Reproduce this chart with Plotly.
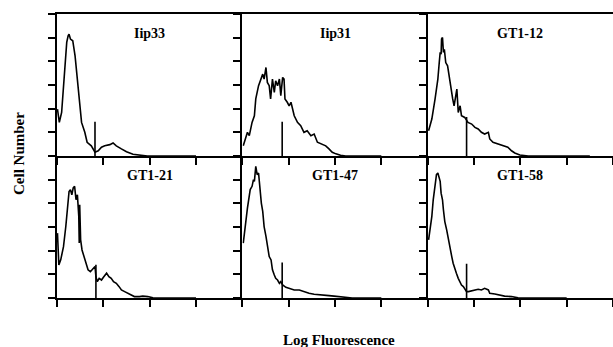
import plotly.graph_objects as go

panel_titles = ["Iip33", "Iip31", "GT1-12", "GT1-21", "GT1-47", "GT1-58"]

# x in decades of log fluorescence (0-4), y in arbitrary cell-number units (0-6)
iip33_x = [0.01, 0.05, 0.10, 0.17, 0.21, 0.24, 0.26, 0.29, 0.34, 0.39, 0.44, 0.49, 0.53, 0.60, 0.65, 0.74,
           0.82, 0.89, 0.96, 1.03, 1.14, 1.21, 1.28, 1.39, 1.50, 1.64, 1.78, 1.95, 3.0]
iip33_y = [1.98, 1.42, 1.84, 3.81, 4.80, 5.08, 5.15, 4.94, 4.87, 4.23, 3.11, 2.12, 1.42, 1.00, 0.58, 0.43,
           0.16, 0.22, 0.37, 0.43, 0.48, 0.55, 0.43, 0.30, 0.18, 0.07, 0.03, 0.0, 0.0]

iip31_x = [0.02, 0.06, 0.11, 0.15, 0.21, 0.26, 0.29, 0.35, 0.40, 0.44, 0.47, 0.51, 0.54, 0.58, 0.61, 0.65,
           0.69, 0.72, 0.76, 0.80, 0.83, 0.87, 0.90, 0.92, 0.97, 1.01, 1.05, 1.12, 1.19, 1.26, 1.33, 1.40,
           1.48, 1.55, 1.62, 1.69, 1.80, 1.87, 1.94, 2.02, 2.12, 2.23, 3.0]
iip31_y = [0.43, 0.72, 1.00, 0.86, 1.42, 1.70, 2.41, 2.97, 3.25, 3.46, 3.25, 3.74, 3.11, 2.97, 2.41, 3.25,
           2.69, 3.18, 2.97, 3.25, 2.55, 3.32, 3.25, 2.41, 2.27, 2.12, 2.27, 1.70, 1.42, 1.28, 1.00, 1.07,
           0.86, 0.93, 0.58, 0.51, 0.43, 0.30, 0.16, 0.09, 0.03, 0.0, 0.0]

gt112_x = [0.02, 0.09, 0.16, 0.22, 0.25, 0.27, 0.29, 0.30, 0.32, 0.34, 0.36, 0.39, 0.43, 0.46, 0.50, 0.54,
           0.57, 0.61, 0.63, 0.66, 0.70, 0.73, 0.80, 0.87, 0.95, 1.02, 1.09, 1.16, 1.23, 1.31, 1.34, 1.41,
           1.52, 1.63, 1.73, 1.81, 1.88, 1.99, 2.17, 3.5]
gt112_y = [1.07, 1.56, 2.41, 3.25, 3.95, 4.38, 4.30, 4.94, 5.01, 4.38, 4.51, 3.95, 3.81, 3.39, 2.97, 2.41,
           2.12, 2.69, 2.83, 1.84, 2.12, 1.70, 1.63, 1.42, 1.35, 1.21, 1.14, 1.00, 0.93, 1.00, 0.72, 0.58,
           0.51, 0.43, 0.37, 0.22, 0.13, 0.04, 0.0, 0.0]

gt121_x = [0.01, 0.04, 0.08, 0.14, 0.19, 0.24, 0.26, 0.29, 0.32, 0.35, 0.38, 0.41, 0.44, 0.47, 0.48, 0.49,
           0.51, 0.54, 0.58, 0.62, 0.67, 0.72, 0.78, 0.82, 0.84, 0.87, 0.91, 0.96, 1.01, 1.07, 1.12, 1.17,
           1.22, 1.28, 1.34, 1.39, 1.46, 1.53, 1.60, 1.67, 1.78, 1.85, 1.96, 2.07, 2.18, 3.0]
gt121_y = [2.74, 1.40, 1.61, 2.17, 3.02, 4.01, 4.50, 4.58, 4.36, 4.65, 4.72, 4.15, 4.36, 3.45, 2.32, 3.94,
           2.46, 2.03, 1.75, 1.47, 1.19, 1.11, 1.26, 1.33, 0.90, 0.69, 0.83, 0.76, 0.90, 1.05, 0.90, 0.83,
           0.69, 0.62, 0.48, 0.34, 0.27, 0.20, 0.13, 0.06, 0.06, 0.08, 0.06, 0.01, 0.0, 0.0]

gt147_x = [0.02, 0.06, 0.11, 0.17, 0.21, 0.24, 0.26, 0.29, 0.32, 0.35, 0.38, 0.41, 0.44, 0.47, 0.51, 0.54,
           0.58, 0.62, 0.65, 0.69, 0.72, 0.76, 0.80, 0.83, 0.87, 0.94, 1.01, 1.12, 1.23, 1.33, 1.44, 1.55,
           1.66, 1.76, 1.87, 1.98, 2.09, 2.19, 2.37, 3.0]
gt147_y = [2.32, 3.02, 3.80, 4.58, 4.72, 5.00, 4.93, 5.56, 5.21, 5.28, 4.43, 4.01, 3.66, 3.02, 2.60, 2.17,
           1.75, 1.61, 1.19, 0.97, 0.83, 0.76, 0.62, 0.69, 0.55, 0.45, 0.41, 0.34, 0.34, 0.27, 0.20, 0.16,
           0.13, 0.11, 0.10, 0.08, 0.06, 0.02, 0.0, 0.0]

gt158_x = [0.02, 0.05, 0.09, 0.12, 0.16, 0.19, 0.22, 0.24, 0.27, 0.29, 0.32, 0.34, 0.37, 0.41, 0.45, 0.48,
           0.52, 0.55, 0.59, 0.62, 0.66, 0.70, 0.73, 0.77, 0.80, 0.84, 0.88, 0.95, 1.02, 1.09, 1.16, 1.23,
           1.31, 1.34, 1.45, 1.56, 1.66, 1.81, 1.95, 2.09, 3.0]
gt158_y = [2.46, 2.88, 3.45, 4.15, 4.72, 5.21, 5.28, 5.14, 4.93, 4.43, 4.15, 3.73, 3.23, 2.88, 2.46, 2.03,
           1.75, 1.47, 1.19, 1.05, 0.83, 0.69, 0.55, 0.48, 0.41, 0.27, 0.27, 0.31, 0.34, 0.37, 0.34, 0.41,
           0.34, 0.20, 0.17, 0.13, 0.08, 0.06, 0.01, 0.0, 0.0]

# vertical marker lines (position in decades, height in units)
marker_x = [0.82, 0.86, 0.84, 0.84, 0.86, 0.84]
marker_h = [1.45, 1.45, 1.65, 1.40, 1.50, 1.45]

curves_x = [iip33_x, iip31_x, gt112_x, gt121_x, gt147_x, gt158_x]
curves_y = [iip33_y, iip31_y, gt112_y, gt121_y, gt147_y, gt158_y]

x_ticks = [0, 1, 2, 3, 4]
y_ticks = [0, 1, 2, 3, 4, 5, 6]

W, H = 613, 347
ML, MR, MT, MB = 57, 0, 14, 49

fig = go.Figure()
col_dom = [(0, 1 / 3), (1 / 3, 2 / 3), (2 / 3, 1.0)]
row_dom = [(0.5, 1.0), (0.0, 0.5)]

font_serif = "Liberation Serif, Times New Roman, serif"

for i in range(6):
    r, c = divmod(i, 3)
    n = i + 1
    xa = "x" if n == 1 else f"x{n}"
    ya = "y" if n == 1 else f"y{n}"
    fig.add_trace(go.Scatter(x=curves_x[i], y=curves_y[i], mode="lines",
                             line=dict(color="black", width=1.6),
                             xaxis=xa, yaxis=ya, showlegend=False, hoverinfo="skip"))
    fig.add_trace(go.Scatter(x=[marker_x[i], marker_x[i]], y=[0, marker_h[i]], mode="lines",
                             line=dict(color="black", width=1.6),
                             xaxis=xa, yaxis=ya, showlegend=False, hoverinfo="skip"))
    axis_common = dict(showgrid=False, zeroline=False, showticklabels=False,
                       ticks="outside", ticklen=7, tickwidth=1.5, tickcolor="black",
                       showline=True, linecolor="black", linewidth=2)
    fig.layout[f"xaxis{'' if n == 1 else n}"] = dict(
        axis_common, domain=list(col_dom[c]), range=[0, 4], tickvals=x_ticks,
        anchor=ya, mirror=(r == 0))
    fig.layout[f"yaxis{'' if n == 1 else n}"] = dict(
        axis_common, domain=list(row_dom[r]), range=[0, 6], tickvals=y_ticks,
        anchor=xa, mirror=False)
    fig.add_annotation(text=f"<b>{panel_titles[i]}</b>", xref="paper", yref="paper",
                       x=(col_dom[c][0] + col_dom[c][1]) / 2,
                       y=row_dom[r][1] - 19 / (H - MT - MB),
                       showarrow=False, xanchor="center", yanchor="middle",
                       font=dict(family=font_serif, size=14, color="black"))

fig.add_annotation(text="<b>Cell Number</b>", xref="paper", yref="paper",
                   x=(19 - ML) / (W - ML - MR), y=1 - (154 - MT) / (H - MT - MB),
                   textangle=-90, showarrow=False, xanchor="center", yanchor="middle",
                   font=dict(family=font_serif, size=15, color="black"))
fig.add_annotation(text="<b>Log Fluorescence</b>", xref="paper", yref="paper",
                   x=(339 - ML) / (W - ML - MR), y=-(340 - (H - MB)) / (H - MT - MB),
                   showarrow=False, xanchor="center", yanchor="middle",
                   font=dict(family=font_serif, size=15, color="black"))

fig.update_layout(width=W, height=H, margin=dict(l=ML, r=MR, t=MT, b=MB),
                  paper_bgcolor="white", plot_bgcolor="white", showlegend=False)

fig.write_html("out.html", config={"displayModeBar": False},
               post_script="document.body.style.margin='0';document.body.style.overflow='hidden';")
